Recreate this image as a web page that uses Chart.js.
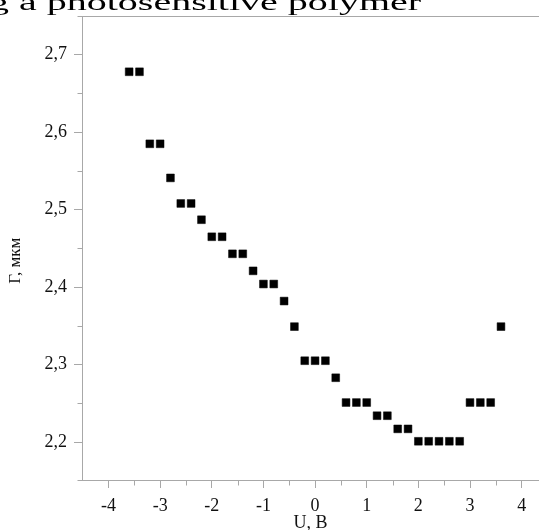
<!DOCTYPE html>
<html>
<head>
<meta charset="utf-8">
<script src="https://cdn.jsdelivr.net/npm/chart.js@4/dist/chart.umd.min.js"></script>
<style>
  html, body { margin:0; padding:0; background:#fff; overflow:hidden; }
  #wrap { position:relative; width:539px; height:530px; }
  #cap { position:absolute; left:-11px; top:-23px; font-family:"Liberation Serif", serif; font-size:40px; line-height:40px; white-space:nowrap; color:#000; transform:scaleY(0.6); transform-origin:0 33.5px; }
  canvas { position:absolute; left:0; top:0; }
</style>
</head>
<body>
<div id="wrap">
  <canvas id="c" width="539" height="530"></canvas>
  <div id="cap">g a photosensitive polymer</div>
</div>
<script>
// ---- data ----
const voltage = [-3.6,-3.4,-3.2,-3.0,-2.8,-2.6,-2.4,-2.2,-2.0,-1.8,-1.6,-1.4,-1.2,-1.0,-0.8,-0.6,-0.4,-0.2,0,0.2,0.4,0.6,0.8,1.0,1.2,1.4,1.6,1.8,2.0,2.2,2.4,2.6,2.8,3.0,3.2,3.4,3.6];
const period  = [2.678,2.678,2.585,2.585,2.541,2.508,2.508,2.487,2.465,2.465,2.443,2.443,2.421,2.404,2.404,2.382,2.349,2.305,2.305,2.305,2.283,2.251,2.251,2.251,2.234,2.234,2.217,2.217,2.201,2.201,2.201,2.201,2.201,2.251,2.251,2.251,2.349];
const xMajor = [-4,-3,-2,-1,0,1,2,3,4];
const xTickLabels = ['-4','-3','-2','-1','0','1','2','3','4'];
const xMinor = [-4.5,-3.5,-2.5,-1.5,-0.5,0.5,1.5,2.5,3.5];
const yMajor = [2.2,2.3,2.4,2.5,2.6,2.7];
const yTickLabels = ['2,2','2,3','2,4','2,5','2,6','2,7'];
const yMinor = [2.25,2.35,2.45,2.55,2.65];
const xTitle = 'U, В';
const yTitle = 'Г, мкм\u00a0\u00a0\u00a0\u00a0\u00a0\u00a0';

const AXIS = '#a8a8a8';
const TXT = '#111';
const FAMILY = '"Liberation Serif", "Times New Roman", serif';

const points = voltage.map((v, i) => ({ x: v, y: period[i] }));

const extraTicks = {
  id: 'extraTicks',
  afterDraw(chart) {
    const { ctx, chartArea: a, scales: { x, y } } = chart;
    ctx.save();
    ctx.strokeStyle = AXIS;
    ctx.lineWidth = 1;
    const line = (x1, y1, x2, y2) => { ctx.beginPath(); ctx.moveTo(x1, y1); ctx.lineTo(x2, y2); ctx.stroke(); };
    const top = Math.round(a.top) + 0.5;
    const bot = Math.round(a.bottom) + 0.5;
    const left = Math.round(a.left) + 0.5;
    line(left - 5, top, chart.width, top);
    line(left - 5, bot, left, bot);
    xMinor.forEach(v => { const p = Math.round(x.getPixelForValue(v)) + 0.5; if (p > a.left + 2) line(p, bot, p, bot + 5); });
    yMinor.forEach(v => { const p = Math.round(y.getPixelForValue(v)) + 0.5; line(left - 5, p, left, p); });
    ctx.restore();
  }
};

new Chart(document.getElementById('c'), {
  type: 'scatter',
  data: {
    datasets: [{
      data: points,
      pointStyle: 'rect',
      pointRadius: 5.5,
      pointHoverRadius: 5.5,
      backgroundColor: '#000',
      borderColor: '#000',
      borderWidth: 0.5
    }]
  },
  options: {
    responsive: false,
    animation: false,
    events: [],
    layout: { autoPadding: false, padding: { top: 16, right: 0, bottom: 0, left: 0 } },
    plugins: { legend: { display: false }, tooltip: { enabled: false } },
    scales: {
      x: {
        type: 'linear',
        min: -4.513, max: 4.336,
        afterBuildTicks: s => { s.ticks = xMajor.map(v => ({ value: v })); },
        afterFit: s => { s.height = 50; s.paddingLeft = 0; s.paddingRight = 0; },
        ticks: { callback: (v, i) => xTickLabels[i], font: { family: FAMILY, size: 18 }, color: TXT, padding: 7, maxRotation: 0, autoSkip: false },
        grid: { drawOnChartArea: false, drawTicks: true, tickLength: 8, color: AXIS },
        border: { display: true, color: AXIS, width: 1 },
        title: { display: true, text: xTitle, font: { family: FAMILY, size: 18, lineHeight: 0.8 }, color: TXT, padding: 0 }
      },
      y: {
        type: 'linear',
        min: 2.151, max: 2.75,
        afterBuildTicks: s => { s.ticks = yMajor.map(v => ({ value: v })); },
        afterFit: s => { s.width = 82; s.paddingTop = 0; s.paddingBottom = 0; },
        ticks: { callback: (v, i) => yTickLabels[i], font: { family: FAMILY, size: 18 }, color: TXT, padding: 7, autoSkip: false },
        grid: { drawOnChartArea: false, drawTicks: true, tickLength: 8, color: AXIS },
        border: { display: true, color: AXIS, width: 1 },
        title: { display: true, text: yTitle, font: { family: FAMILY, size: 17, lineHeight: 1 }, color: TXT, padding: { top: 7, bottom: 0 } }
      }
    }
  },
  plugins: [extraTicks]
});
</script>
</body>
</html>
